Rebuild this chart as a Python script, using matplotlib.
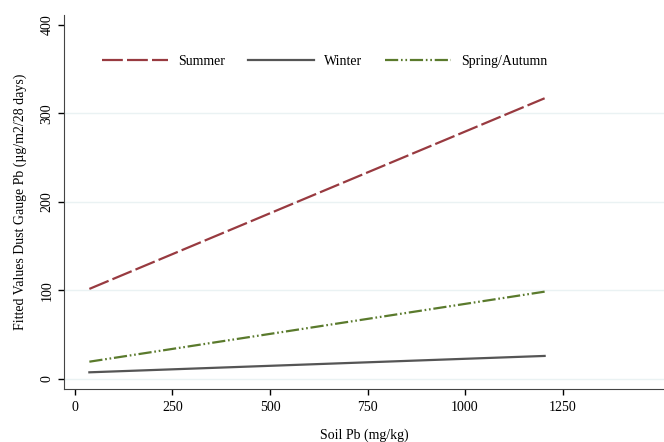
import matplotlib.pyplot as plt

plt.rcParams["font.family"] = ["Liberation Serif", "DejaVu Serif"]
plt.rcParams["lines.scale_dashes"] = False

soil_pb = [37, 1204]
summer = [101.7, 317.0]
winter = [7.5, 26.0]
spring_autumn = [19.5, 98.6]

x_ticks = [0, 250, 500, 750, 1000, 1250]
y_ticks = [0, 100, 200, 300, 400]

fig = plt.figure(figsize=(6.64, 4.42), dpi=100)
ax = fig.add_axes([0.0964, 0.12, 0.9036, 0.846])

ax.plot(soil_pb, summer, color="#983a40", lw=1.6, dashes=(15, 3), label="Summer")
ax.plot(soil_pb, winter, color="#555555", lw=1.6, label="Winter")
ax.plot(soil_pb, spring_autumn, color="#5a7a2c", lw=1.6,
        dashes=(9.5, 2, 1.2, 2, 1.2, 2), label="Spring/Autumn")

ax.set_xlim(-28, 1510)
ax.set_ylim(-11.3, 411)
ax.set_xticks(x_ticks)
ax.set_yticks(y_ticks)
ax.tick_params(direction="out", length=4, width=1, labelsize=10, colors="black")
ax.tick_params(axis="x", pad=5)
for lab in ax.get_yticklabels():
    lab.set_rotation(90)
    lab.set_va("center")

ax.grid(axis="y", color="#eaf2f3", lw=1)
ax.get_ygridlines()[-1].set_visible(False)
ax.set_axisbelow(True)

ax.spines["top"].set_visible(False)
ax.spines["right"].set_visible(False)
ax.spines["left"].set_color("#444444")
ax.spines["bottom"].set_color("#444444")

ax.set_xlabel("Soil Pb (mg/kg)", fontsize=10, labelpad=10)
ax.set_ylabel("Fitted Values Dust Gauge Pb (\u00b5g/m2/28 days)", fontsize=10, labelpad=10)

ax.legend(loc="center left", bbox_to_anchor=(0.063, 0.877), ncol=3, frameon=False,
          fontsize=10, handlelength=4.75, handletextpad=0.72, columnspacing=1.68,
          borderpad=0, borderaxespad=0)

fig.savefig("out.png", dpi=100)
